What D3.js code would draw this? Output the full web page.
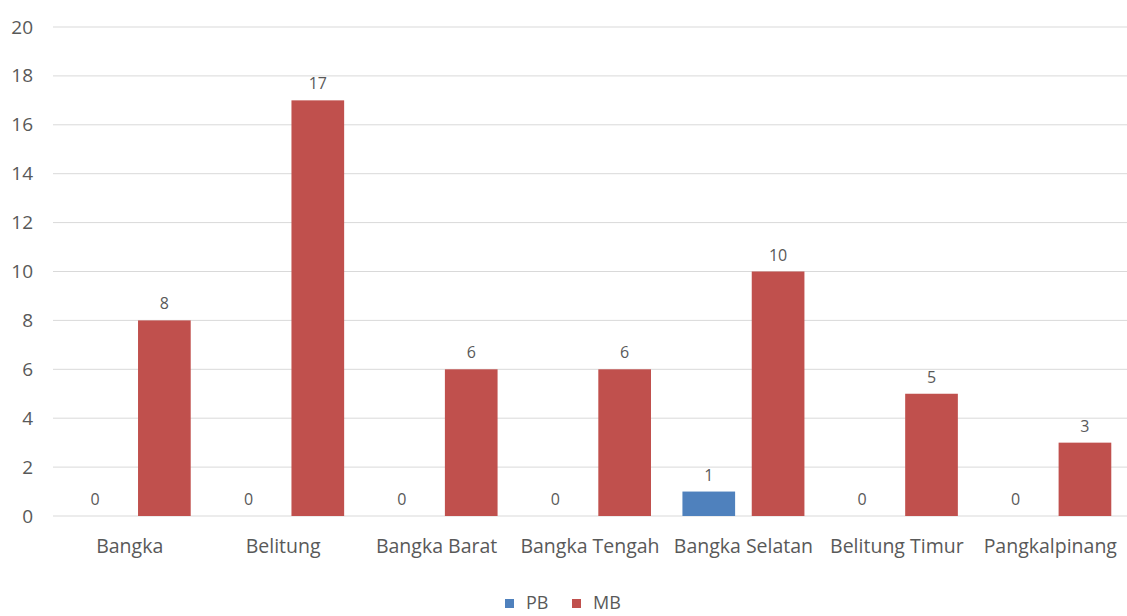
<!DOCTYPE html>
<html>
<head>
<meta charset="utf-8">
<title>PB MB per kabupaten</title>
<script src="https://cdnjs.cloudflare.com/ajax/libs/d3/7.8.5/d3.min.js"></script>
<style>
body{margin:0;background:#fff;}
text{font-family:"Open Sans","Noto Sans",sans-serif;fill:#595959;}
</style>
</head>
<body>
<div id="chart"></div>
<script>
var categories = ["Bangka","Belitung","Bangka Barat","Bangka Tengah","Bangka Selatan","Belitung Timur","Pangkalpinang"];
var seriesNames = ["PB","MB"];
var pbValues = [0,0,0,0,1,0,0];
var mbValues = [8,17,6,6,10,5,3];
var yTicks = [0,2,4,6,8,10,12,14,16,18,20];
var colors = {"PB":"#4F81BD","MB":"#C0504D"};

var W = 1127, H = 616;
var margin = {top: 27, right: 0, bottom: 100, left: 53};
var width = W - margin.left - margin.right,
    height = H - margin.top - margin.bottom;

var svg = d3.select("#chart").append("svg")
  .attr("width", W)
  .attr("height", H);

var g = svg.append("g")
  .attr("transform","translate(" + margin.left + "," + margin.top + ")");

var x = d3.scaleBand().domain(categories).range([0,width]);
var xs = d3.scaleBand().domain(seriesNames).range([x.bandwidth()/2 - 61, x.bandwidth()/2 + 61]).paddingInner(0.24);
var y = d3.scaleLinear().domain([0,20]).range([height,0]);

// gridlines
g.selectAll(".grid").data(yTicks).enter().append("line")
  .attr("x1",0).attr("x2",width)
  .attr("y1",d=>y(d)).attr("y2",d=>y(d))
  .attr("stroke","#d9d9d9").attr("stroke-width",1);

var yAxis = g.append("g").call(d3.axisLeft(y).tickValues(yTicks).tickSize(0).tickPadding(20));
yAxis.select(".domain").remove();
yAxis.selectAll("text").style("font-size","19px").attr("fill","#595959");

var xAxis = g.append("g").attr("transform","translate(0,"+height+")")
  .call(d3.axisBottom(x).tickSize(0).tickPadding(23));
xAxis.select(".domain").remove();
xAxis.selectAll("text").style("font-size","19.5px").attr("fill","#595959");

var rows = categories.map(function(c,i){ return {cat:c, PB:pbValues[i], MB:mbValues[i]}; });

var grp = g.selectAll(".cat").data(rows).enter().append("g")
  .attr("transform",d=>"translate(" + x(d.cat) + ",0)");

seriesNames.forEach(function(s){
  grp.append("rect")
    .attr("x",xs(s))
    .attr("width",xs.bandwidth())
    .attr("y",d=>y(d[s]))
    .attr("height",d=>y(0)-y(d[s]))
    .attr("fill",colors[s]);
  grp.append("text")
    .attr("x",xs(s)+xs.bandwidth()/2)
    .attr("y",d=>y(d[s]) - 11)
    .attr("text-anchor","middle")
    .style("font-size","16px")
    .text(d=>d[s]);
});

// legend
var legend = svg.append("g").attr("transform","translate(505,603)");
var lx = [0,67];
seriesNames.forEach(function(s,i){
  legend.append("rect").attr("x",lx[i]).attr("y",-4).attr("width",9).attr("height",9).attr("fill",colors[s]);
  legend.append("text").attr("x",lx[i]+21).attr("y",0).attr("dy","0.35em")
    .style("font-size","18px").text(s);
});
</script>
</body>
</html>
